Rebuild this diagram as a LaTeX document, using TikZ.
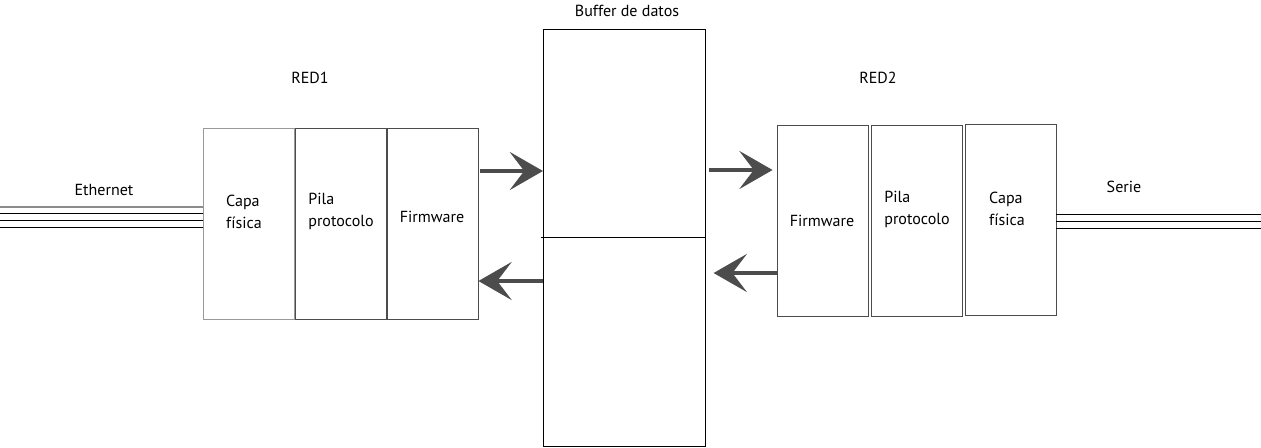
\documentclass[tikz,border=0pt]{standalone}
\usepackage{fontspec}
\setmainfont{PT Sans}
\usetikzlibrary{arrows.meta}

\tikzset{
  layer/.style={draw=black!70, line width=0.6pt, minimum width=2.275cm, minimum height=4.775cm, inner sep=0pt},
  txt/.style={align=left, inner sep=0pt, font=\fontsize{11.4pt}{15.6pt}\selectfont},
  flow/.style={line width=2.6pt, draw=black!70, -{Stealth[length=8.3mm, width=9.5mm, inset=3.6mm]}}
}

\begin{document}
\begin{tikzpicture}[x=0.025cm, y=-0.025cm]
\useasboundingbox (0,0) rectangle (1261,447);
% buffer
\node[draw, line width=0.7pt, minimum width=4.05cm, minimum height=10.4cm, inner sep=0pt] (buf) at (624.5,238) {};
\coordinate (mid) at (541,237); \draw[line width=0.7pt] (mid) -- (buf.east |- mid);
\node[txt] (tbuf) at (627,11) {Buffer de datos};
% RED1
\node[layer, draw=black!40] (cf1) at (248.5,223.5) {};
\node[layer] (pp1) at (340.5,223.5) {};
\node[layer] (fw1) at (432.5,223.5) {};
\node[txt] at (244,212) {Capa\\física};
\node[txt] at (341,211) {Pila\\protocolo};
\node[txt] at (432,217) {Firmware};
\node[txt] (red1) at (310,78) {RED1};
% RED2
\node[layer] (fw2) at (822.5,221) {};
\node[layer] (pp2) at (916.5,221) {};
\node[layer] (cf2) at (1010.5,219.5) {};
\node[txt] at (822,221) {Firmware};
\node[txt] at (917,209) {Pila\\protocolo};
\node[txt] at (1007,209) {Capa\\física};
\node[txt] (red2) at (878,78) {RED2};
% arrows
\coordinate (a1) at (480,171); \draw[flow] (a1) -- (buf.west |- a1);
\coordinate (a2) at (543,281); \draw[flow] (a2) -- (fw1.east |- a2);
\coordinate (a3) at (709,170); \draw[flow] (a3) -- ([xshift=-0.1cm]fw2.west |- a3);
\coordinate (a4) at (777,273); \draw[flow] (a4) -- ([xshift=0.19cm]buf.east |- a4);
% lines
\coordinate (eth) at (0,207); \draw[black!45, line width=1.3pt] (eth) -- (cf1.west |- eth);
\foreach \y in {213.5,220.5,227} { \coordinate (e) at (0,\y); \draw[line width=0.6pt] (e) -- (cf1.west |- e); };
\foreach \y in {214.5,221.5,228.5} { \coordinate (s) at (1261,\y); \draw[line width=0.6pt] (cf2.east |- s) -- (s); };
\node[txt] (teth) at (104,190) {Ethernet};
\node[txt] (tser) at (1124,187) {Serie};
\end{tikzpicture}
\end{document}
